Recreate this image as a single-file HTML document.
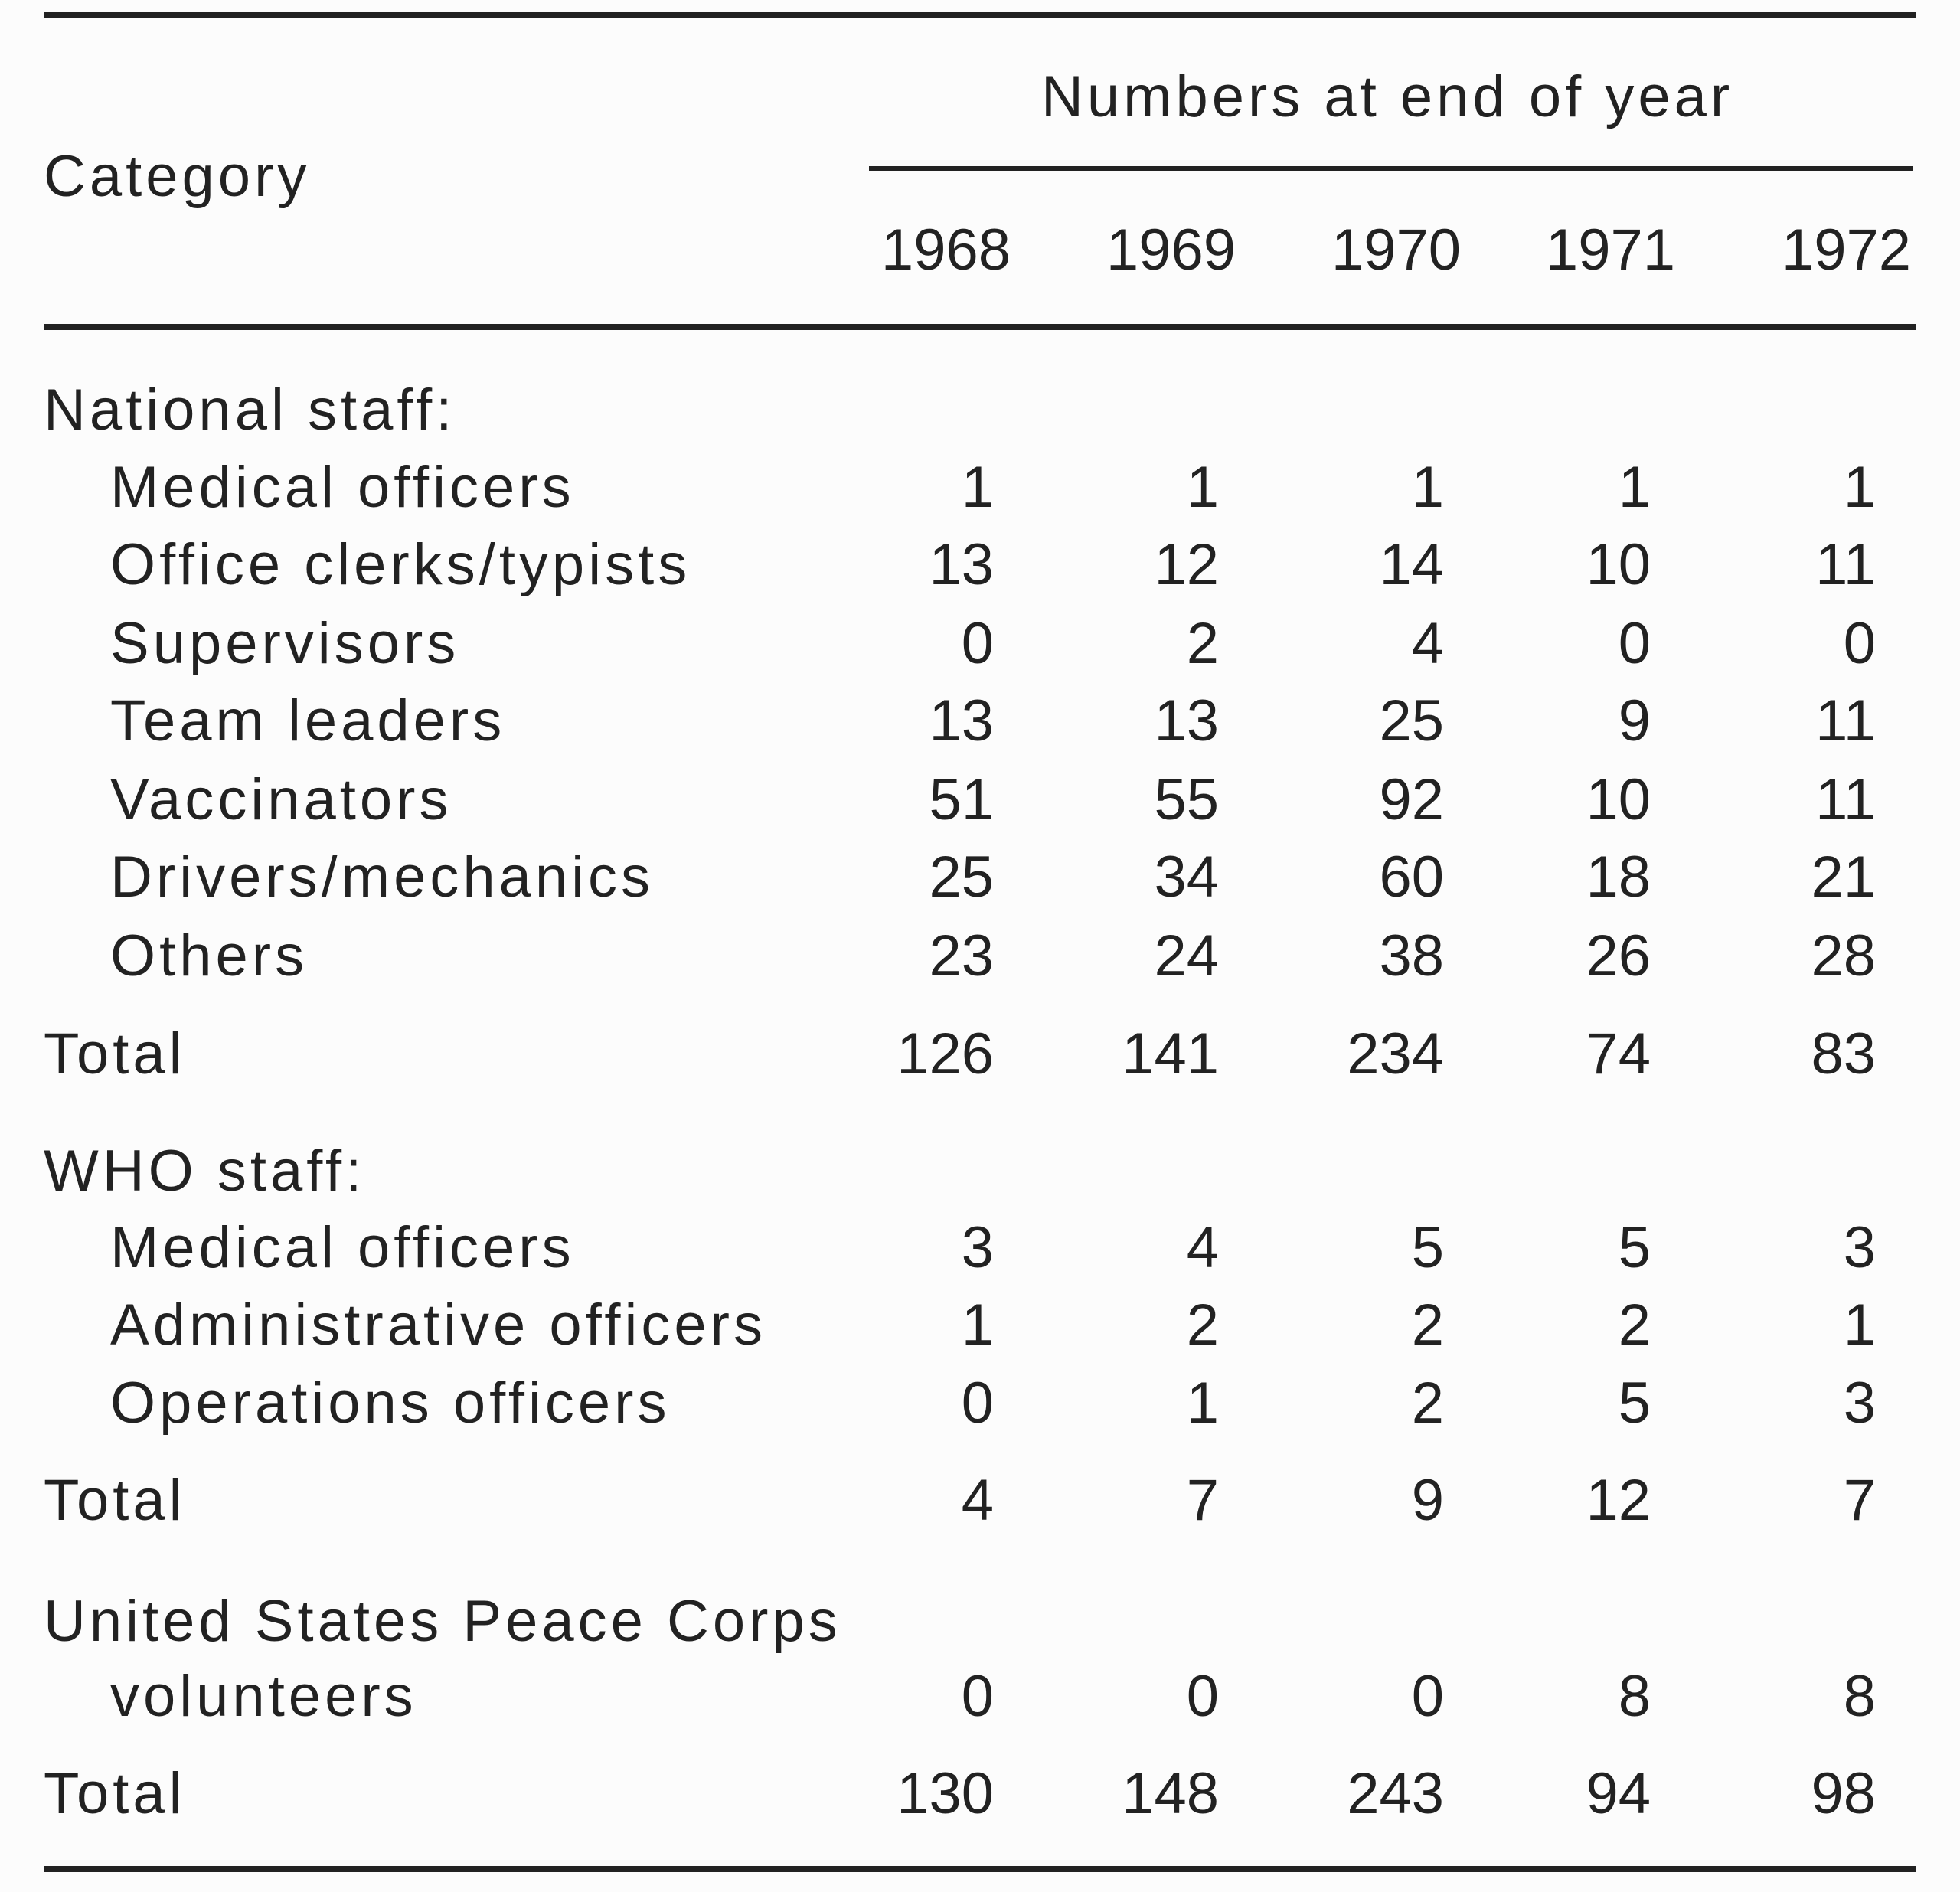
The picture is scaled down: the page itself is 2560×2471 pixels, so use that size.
<!DOCTYPE html>
<html><head><meta charset="utf-8"><style>
body{margin:0;background:#fcfcfc;}
#c{position:relative;width:2560px;height:2471px;font-family:"Liberation Sans",sans-serif;color:#222;font-size:76px;}
.r{position:absolute;left:0;width:2560px;height:90px;line-height:90px;}
.r span{position:absolute;top:0;white-space:nowrap;}
.l,.i,.h{letter-spacing:5px}
.l{left:57px}.i{left:144px}
.n{text-align:right;width:300px}
.c1{left:998px}.c2{left:1292px}.c3{left:1586px}.c4{left:1856px}.c5{left:2150px}
.y1{left:1020px}.y2{left:1314px}.y3{left:1608px}.y4{left:1888px}.y5{left:2196px}
.rule{position:absolute;background:#222;}
</style></head><body><div id="c">
<div class="rule" style="left:57px;top:16px;width:2445px;height:8px"></div>
<div class="rule" style="left:1135px;top:217px;width:1363px;height:6px"></div>
<div class="rule" style="left:57px;top:423px;width:2445px;height:8px"></div>
<div class="rule" style="left:57px;top:2437px;width:2445px;height:8px"></div>
<div class="r" style="top:82px"><span class="h" style="left:1360px">Numbers at end of year</span></div>
<div class="r" style="top:186px"><span class="l">Category</span></div>
<div class="r" style="top:282px"><span class="n y1">1968</span><span class="n y2">1969</span><span class="n y3">1970</span><span class="n y4">1971</span><span class="n y5">1972</span></div>
<div class="r" style="top:491px"><span class="l">National staff:</span></div>
<div class="r" style="top:592px"><span class="i">Medical officers</span><span class="n c1">1</span><span class="n c2">1</span><span class="n c3">1</span><span class="n c4">1</span><span class="n c5">1</span></div>
<div class="r" style="top:693px"><span class="i">Office clerks/typists</span><span class="n c1">13</span><span class="n c2">12</span><span class="n c3">14</span><span class="n c4">10</span><span class="n c5">11</span></div>
<div class="r" style="top:796px"><span class="i">Supervisors</span><span class="n c1">0</span><span class="n c2">2</span><span class="n c3">4</span><span class="n c4">0</span><span class="n c5">0</span></div>
<div class="r" style="top:897px"><span class="i">Team leaders</span><span class="n c1">13</span><span class="n c2">13</span><span class="n c3">25</span><span class="n c4">9</span><span class="n c5">11</span></div>
<div class="r" style="top:1000px"><span class="i">Vaccinators</span><span class="n c1">51</span><span class="n c2">55</span><span class="n c3">92</span><span class="n c4">10</span><span class="n c5">11</span></div>
<div class="r" style="top:1101px"><span class="i">Drivers/mechanics</span><span class="n c1">25</span><span class="n c2">34</span><span class="n c3">60</span><span class="n c4">18</span><span class="n c5">21</span></div>
<div class="r" style="top:1204px"><span class="i">Others</span><span class="n c1">23</span><span class="n c2">24</span><span class="n c3">38</span><span class="n c4">26</span><span class="n c5">28</span></div>
<div class="r" style="top:1332px"><span class="l">Total</span><span class="n c1">126</span><span class="n c2">141</span><span class="n c3">234</span><span class="n c4">74</span><span class="n c5">83</span></div>
<div class="r" style="top:1485px"><span class="l">WHO staff:</span></div>
<div class="r" style="top:1585px"><span class="i">Medical officers</span><span class="n c1">3</span><span class="n c2">4</span><span class="n c3">5</span><span class="n c4">5</span><span class="n c5">3</span></div>
<div class="r" style="top:1686px"><span class="i">Administrative officers</span><span class="n c1">1</span><span class="n c2">2</span><span class="n c3">2</span><span class="n c4">2</span><span class="n c5">1</span></div>
<div class="r" style="top:1788px"><span class="i">Operations officers</span><span class="n c1">0</span><span class="n c2">1</span><span class="n c3">2</span><span class="n c4">5</span><span class="n c5">3</span></div>
<div class="r" style="top:1915px"><span class="l">Total</span><span class="n c1">4</span><span class="n c2">7</span><span class="n c3">9</span><span class="n c4">12</span><span class="n c5">7</span></div>
<div class="r" style="top:2073px"><span class="l">United States Peace Corps</span></div>
<div class="r" style="top:2171px"><span class="i">volunteers</span><span class="n c1">0</span><span class="n c2">0</span><span class="n c3">0</span><span class="n c4">8</span><span class="n c5">8</span></div>
<div class="r" style="top:2298px"><span class="l">Total</span><span class="n c1">130</span><span class="n c2">148</span><span class="n c3">243</span><span class="n c4">94</span><span class="n c5">98</span></div>
</div></body></html>
